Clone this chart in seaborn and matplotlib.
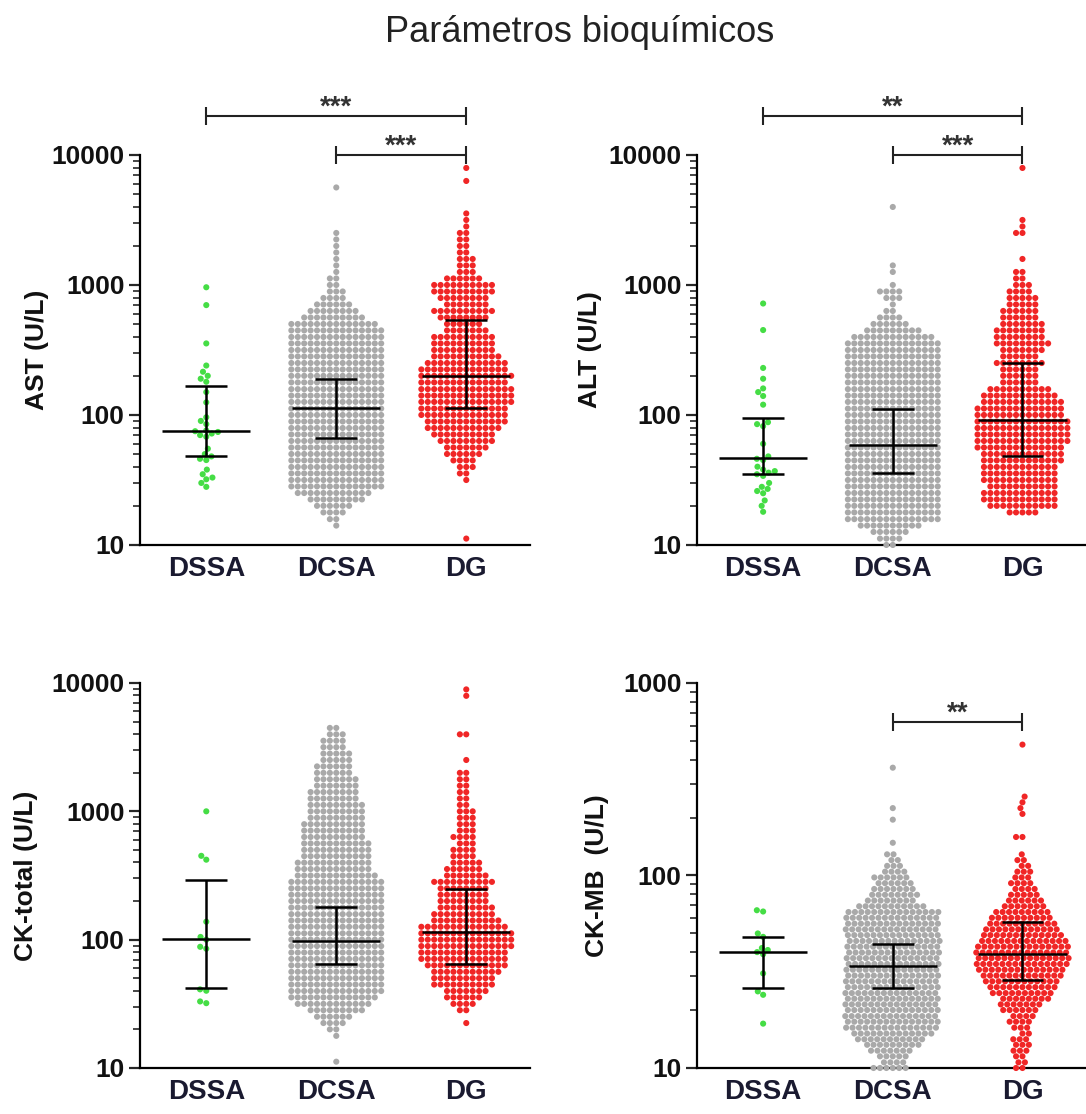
import numpy as np
import pandas as pd
import matplotlib
matplotlib.use('Agg')
import matplotlib.pyplot as plt
import seaborn as sns
from matplotlib.ticker import LogLocator, NullFormatter

# Groups and colours
groups = ['DSSA', 'DCSA', 'DG']
palette = {'DSSA': '#45dd45', 'DCSA': '#a9a9a9', 'DG': '#f02626'}

# ---- AST (U/L) ----
ast_dssa = [960, 700, 355, 240, 215, 200, 190, 180, 150, 125, 96, 90, 85, 76, 75,
            74, 72, 70, 68, 55, 50, 48, 46, 45, 38, 35, 33, 32, 30, 28]
ast_dcsa_vals = [14.1, 15.8, 17.8, 20, 22.4, 25.1, 28.2, 31.6, 35.5, 39.8, 44.7, 50.1,
                 56.2, 63.1, 70.8, 79.4, 89.1, 100, 112, 126, 141, 158, 178, 200, 224,
                 251, 282, 316, 355, 398, 447, 501, 562, 631, 708, 794, 891, 1000, 1122,
                 1259, 1413, 1585, 1778, 1995, 2239, 2512, 5623]
ast_dcsa_n = [1, 2, 4, 6, 9, 12,
              15, 15, 15, 15, 15, 15, 15, 15, 15, 15, 15, 15, 15, 15, 15, 15, 15, 15, 15,
              15, 15, 15, 15, 15, 15,
              14, 10, 8, 6, 4, 3, 2, 2, 1, 1, 1, 1, 1, 1, 1, 1]
ast_dg_vals = [11.2, 31.6, 35.5, 39.8, 44.7, 50.1, 56.2, 63.1, 70.8, 79.4, 89.1, 100, 112,
               126, 141, 158, 178, 200, 224, 251, 282, 316, 355, 398, 447, 501, 562, 631,
               708, 794, 891, 1000, 1122, 1259, 1413, 1585, 1778, 1995, 2239, 2512, 2818,
               3162, 3548, 6310, 7943]
ast_dg_n = [1, 1, 2, 3, 4, 6, 7, 9, 10, 12, 13, 14, 14, 15, 15, 15, 14, 15, 14, 13, 11, 10,
            10, 10, 7, 6, 8, 10, 7, 8, 10, 10, 6, 3, 3, 3, 2, 2, 2, 2, 1, 1, 1, 1, 1]
ast_med = [75, 113, 200]
ast_lo = [48, 67, 113]
ast_hi = [168, 189, 536]

# ---- ALT (U/L) ----
alt_dssa = [720, 450, 230, 190, 160, 150, 140, 120, 88, 85, 82, 60, 48, 46, 45, 40, 38,
            37, 36, 35, 34, 30, 28, 27, 26, 25, 22, 20, 18]
alt_dcsa_vals = [10, 11.2, 12.6, 14.1, 15.8, 17.8, 20, 22.4, 25.1, 28.2, 31.6, 35.5, 39.8,
                 44.7, 50.1, 56.2, 63.1, 70.8, 79.4, 89.1, 100, 112, 126, 141, 158, 178,
                 200, 224, 251, 282, 316, 355, 398, 447, 501, 562, 631, 708, 794, 891,
                 1000, 1259, 1413, 3981]
alt_dcsa_n = [2, 4, 6, 10,
              15, 15, 15, 15, 15, 15, 15, 15, 15, 15, 15, 15, 15, 15, 15, 15, 15, 15, 15,
              15, 15, 15, 15, 15, 15, 15, 15, 15,
              13, 9, 6, 4, 2, 1, 3, 4, 1, 1, 1, 1]
alt_dg_vals = [17.8, 20, 22.4, 25.1, 28.2, 31.6, 35.5, 39.8, 44.7, 50.1, 56.2, 63.1, 70.8,
               79.4, 89.1, 100, 112, 126, 141, 158, 178, 200, 224, 251, 282, 316, 355, 398,
               447, 501, 562, 631, 708, 794, 891, 1000, 1122, 1259, 1585, 2512, 2818, 3162,
               7943]
alt_dg_n = [5, 11, 12, 12, 11, 12, 12, 12, 13, 13, 14, 15, 15, 15, 15, 14, 14, 13, 12, 10,
            6, 6, 6, 8, 6, 7, 9, 8, 8, 7, 6, 6, 5, 5, 4, 3, 2, 2, 1, 2, 1, 1, 1]
alt_med = [47, 59, 91]
alt_lo = [35, 36, 48]
alt_hi = [94, 112, 250]

# ---- CK-total (U/L) ----
ck_dssa = [1000, 450, 420, 138, 105, 100, 88, 85, 41, 40, 33, 32]
ck_dcsa_vals = [11.2, 17.8, 20, 22.4, 25.1, 28.2, 31.6, 35.5, 39.8, 44.7, 50.1, 56.2, 63.1,
                70.8, 79.4, 89.1, 100, 112, 126, 141, 158, 178, 200, 224, 251, 282, 316,
                355, 398, 447, 501, 562, 631, 708, 794, 891, 1000, 1122, 1259, 1413, 1585,
                1778, 1995, 2239, 2512, 2818, 3162, 3548, 3981, 4467]
ck_dcsa_n = [1, 1, 2, 4, 6, 9, 12, 14,
             15, 15, 15, 15, 15, 15, 15, 15, 15, 15, 15, 15, 15, 15, 15, 15, 15, 15,
             13, 12, 12, 11, 11, 11, 10, 10, 10, 9, 9, 9, 8, 8, 7, 7, 6, 6, 5, 5, 4, 4,
             3, 2]
ck_dg_vals = [22.4, 28.2, 31.6, 35.5, 39.8, 44.7, 50.1, 56.2, 63.1, 70.8, 79.4, 89.1, 100,
              112, 126, 141, 158, 178, 200, 224, 251, 282, 316, 355, 398, 447, 501, 562,
              631, 708, 794, 891, 1000, 1122, 1259, 1413, 1585, 1778, 1995, 2512, 3981,
              7943, 8913]
ck_dg_n = [1, 2, 4, 6, 7, 10, 10, 11, 13, 14, 14, 15, 15, 15, 14, 11, 10, 9, 8, 8, 8, 10,
           7, 6, 5, 4, 4, 3, 4, 3, 3, 3, 3, 2, 2, 2, 2, 2, 2, 1, 2, 1, 1]
ck_med = [101, 97, 114]
ck_lo = [42, 65, 65]
ck_hi = [290, 180, 250]

# ---- CK-MB (U/L) ----
ckmb_dssa = [66, 65, 50, 48, 42, 41, 40, 39, 31, 25, 24, 17]
ckmb_dcsa_vals = [10, 10.7, 11.5, 12.3, 13.2, 14.1, 15.1, 16.2, 17.4, 18.6, 20, 21.4, 22.9,
                  24.5, 26.3, 28.2, 30.2, 32.4, 34.7, 37.2, 39.8, 42.7, 45.7, 49, 52.5,
                  56.2, 60.3, 64.6, 69.2, 74.1, 79.4, 85.1, 91.2, 97.7, 104.7, 112.2,
                  120.2, 128.8, 147.9, 195, 223.9, 363.1]
ckmb_dcsa_n = [6, 4, 5, 7, 9, 11, 13,
               15, 15, 15, 15, 15, 15, 15, 15, 15, 15, 15, 15, 15, 15, 15, 15, 15, 15,
               15, 15, 15,
               11, 8, 8, 7, 6, 6, 4, 3, 2, 2, 1, 1, 1, 1]
ckmb_dg_vals = [10, 10.7, 11.5, 12.3, 13.2, 14.1, 15.1, 16.2, 17.4, 18.6, 20, 21.4, 22.9,
                24.5, 26.3, 28.2, 30.2, 32.4, 34.7, 37.2, 39.8, 42.7, 45.7, 49, 52.5, 56.2,
                60.3, 64.6, 69.2, 74.1, 79.4, 85.1, 91.2, 97.7, 104.7, 112.2, 120.2, 128.8,
                158.5, 208.9, 223.9, 239.9, 257, 478.6]
ckmb_dg_n = [2, 2, 2, 3, 3, 3, 2, 3, 4, 4, 6, 7, 8, 10, 11, 12, 13, 14, 15, 15, 15, 15,
             14, 13, 12, 11, 10, 9, 7, 6, 5, 4, 4, 3, 3, 2, 2, 1, 2, 1, 1, 1, 1, 1]
ckmb_med = [40, 34, 39]
ckmb_lo = [26, 26, 28.5]
ckmb_hi = [48, 44, 57]

# Significance brackets: (from, to, height, label)
ast_sig = [(0, 2, 20000, '***'), (1, 2, 10000, '***')]
alt_sig = [(0, 2, 20000, '**'), (1, 2, 10000, '***')]
ck_sig = []
ckmb_sig = [(1, 2, 630, '**')]


def make_df(dssa, dcsa_vals, dcsa_n, dg_vals, dg_n):
    assert len(dcsa_vals) == len(dcsa_n) and len(dg_vals) == len(dg_n)
    dcsa = np.repeat(dcsa_vals, dcsa_n)
    dg = np.repeat(dg_vals, dg_n)
    return pd.DataFrame({
        'grupo': ['DSSA'] * len(dssa) + ['DCSA'] * len(dcsa) + ['DG'] * len(dg),
        'valor': np.concatenate([dssa, dcsa, dg]),
    })


sns.set_style('ticks')
plt.rcParams['font.family'] = ['Liberation Sans', 'DejaVu Sans']

fig = plt.figure(figsize=(10.86, 11.14), dpi=100)
fig.text(580 / 1086, 1 - 33 / 1114, 'Parámetros bioquímicos', ha='center', va='center',
         fontsize=26, color='#222222')

panels = [
    ([0.1289, 0.5108, 0.3591, 0.3501], 'AST (U/L)', 10000, 2,
     make_df(ast_dssa, ast_dcsa_vals, ast_dcsa_n, ast_dg_vals, ast_dg_n),
     ast_med, ast_lo, ast_hi, ast_sig),
    ([0.6418, 0.5108, 0.3582, 0.3501], 'ALT (U/L)', 10000, 5,
     make_df(alt_dssa, alt_dcsa_vals, alt_dcsa_n, alt_dg_vals, alt_dg_n),
     alt_med, alt_lo, alt_hi, alt_sig),
    ([0.1289, 0.0413, 0.3591, 0.3456], 'CK-total (U/L)', 10000, 10,
     make_df(ck_dssa, ck_dcsa_vals, ck_dcsa_n, ck_dg_vals, ck_dg_n),
     ck_med, ck_lo, ck_hi, ck_sig),
    ([0.6418, 0.0413, 0.3582, 0.3456], 'CK-MB  (U/L)', 1000, 10,
     make_df(ckmb_dssa, ckmb_dcsa_vals, ckmb_dcsa_n, ckmb_dg_vals, ckmb_dg_n),
     ckmb_med, ckmb_lo, ckmb_hi, ckmb_sig),
]

for rect, ylabel, ymax, pad, df, med, lo, hi, sig in panels:
    ax = fig.add_axes(rect)
    sns.swarmplot(data=df, x='grupo', y='valor', hue='grupo', order=groups,
                  palette=palette, size=4.4, linewidth=0, log_scale=True,
                  legend=False, warn_thresh=1, clip_on=False, ax=ax)

    # median and interquartile range
    for i in range(3):
        ax.hlines(med[i], i - 0.34, i + 0.34, color='black', lw=1.8, zorder=5)
        ax.vlines(i, lo[i], hi[i], color='black', lw=1.8, zorder=5)
        ax.hlines([lo[i], hi[i]], i - 0.16, i + 0.16, color='black', lw=1.8, zorder=5)

    for x1, x2, y, label in sig:
        ax.plot([x1, x2], [y, y], color='#222222', lw=1.5, marker='|', ms=13, mew=1.5,
                clip_on=False, zorder=6)
        ax.annotate(label, xy=((x1 + x2) / 2, y), xytext=(0, 1), textcoords='offset points',
                    ha='center', va='baseline', fontsize=20, fontweight='bold',
                    color='#333333', annotation_clip=False)

    ax.set_ylim(10, ymax)
    ax.set_xlim(-0.51, 2.49)
    yt = [10, 100, 1000, 10000] if ymax == 10000 else [10, 100, 1000]
    ax.set_yticks(yt, [str(t) for t in yt], fontsize=19, fontweight='bold', color='#111111')
    ax.yaxis.set_minor_locator(LogLocator(base=10, subs=(2, 3, 4, 5, 6, 7, 8, 9)))
    ax.yaxis.set_minor_formatter(NullFormatter())
    ax.set_xticks([0, 1, 2], groups, fontsize=20, fontweight='bold', color='#1a1a30')
    ax.tick_params(axis='y', which='major', length=8, width=1.6, direction='out', pad=3)
    ax.tick_params(axis='y', which='minor', length=5, width=1.2, direction='out')
    ax.tick_params(axis='x', length=0, pad=8)
    ax.set_xlabel('')
    ax.set_ylabel(ylabel, fontsize=19, fontweight='bold', color='#111111', labelpad=pad)
    sns.despine(ax=ax)
    for s in ['left', 'bottom']:
        ax.spines[s].set_linewidth(1.6)
        ax.spines[s].set_color('black')

fig.savefig('out.png', dpi=100)
